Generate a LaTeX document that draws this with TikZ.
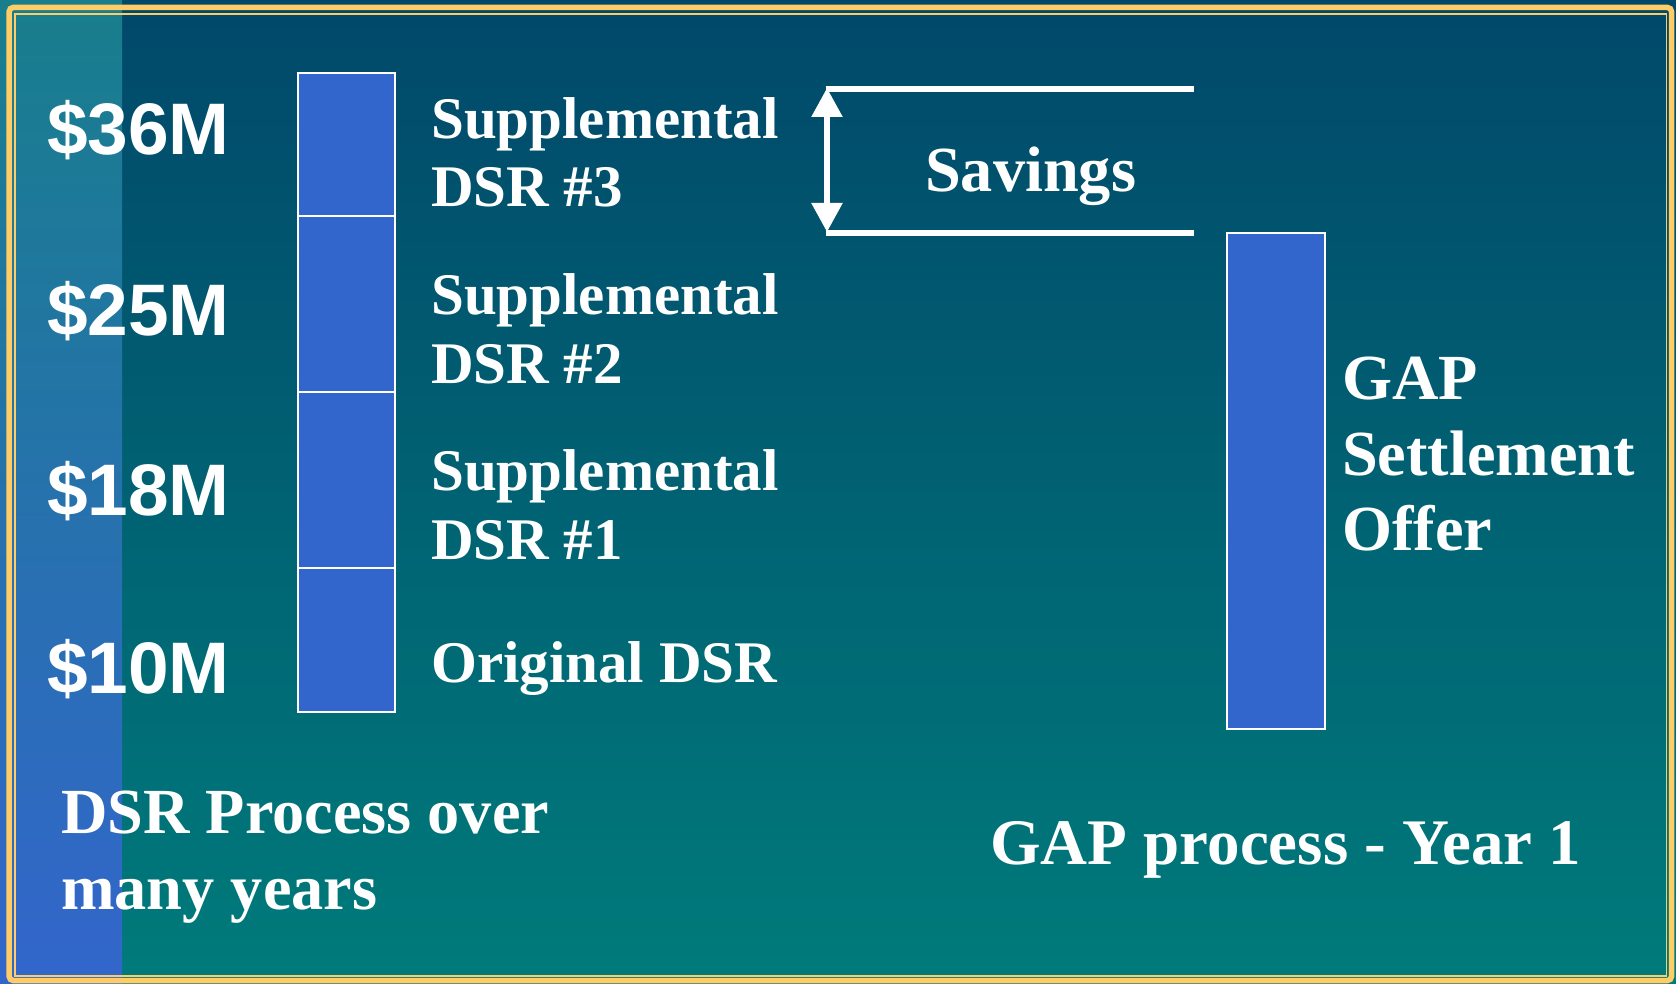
\documentclass[tikz,border=0pt]{standalone}
\usepackage{fontspec}
\setmainfont{Liberation Serif}
\newfontfamily\sansfam{Liberation Sans}
\usetikzlibrary{arrows.meta}
\definecolor{bgtop}{HTML}{01486A}
\definecolor{bgbot}{HTML}{007B7B}
\definecolor{striptop}{HTML}{187E8C}
\definecolor{stripbot}{HTML}{3366CC}
\definecolor{barblue}{HTML}{3366CC}
\definecolor{gold}{HTML}{FFCC66}
\begin{document}
\begin{tikzpicture}[x=1pt,y=-1pt,
  money/.style={font=\sansfam\bfseries\fontsize{73}{80}\selectfont, text=white, anchor=base west, inner sep=0pt},
  lbl/.style={font=\bfseries\fontsize{59}{68}\selectfont, text=white, anchor=base west, inner sep=0pt},
  biglbl/.style={font=\bfseries\fontsize{64.3}{76}\selectfont, text=white, anchor=base west, inner sep=0pt},
  barseg/.style={draw=white, line width=2pt, fill=barblue, inner sep=0pt, outer sep=0pt, minimum width=97pt},
  bracket/.style={white, line width=6pt},
  dblarrow/.style={white, line width=5.5pt, {Triangle[length=29pt,width=30pt]}-{Triangle[length=29pt,width=30pt]}}]
\useasboundingbox (0,0) rectangle (1676,984);
% background
\shade[top color=bgtop, bottom color=bgbot] (0,0) rectangle (1676,984);
\shade[top color=striptop, bottom color=stripbot] (0,0) rectangle (122,984);
% border
\draw[gold, line width=5.5pt, rounded corners=4pt] (9.2,7.5) rectangle (1671.5,980.5);
\draw[gold, line width=1.5pt] (15.2,14.2) rectangle (1666.5,976);
% left stacked bar
\node[barseg, minimum height=143pt] (seg3) at (346.5,144.5) {};
\node[barseg, minimum height=176pt] (seg2) at (346.5,304) {};
\node[barseg, minimum height=176pt] (seg1) at (346.5,480) {};
\node[barseg, minimum height=144pt] (seg0) at (346.5,640) {};
% right bar
\node[barseg, minimum width=98pt, minimum height=496pt] (gapbar) at (1276,480.6) {};
% money labels
\node[money] (m36) at (47,155) {\$36M};
\node[money] (m25) at (47,335) {\$25M};
\node[money] (m18) at (47,515) {\$18M};
\node[money] (m10) at (47,693) {\$10M};
% segment labels
\node[lbl] (s3a) at (431,139) {Supplemental};
\node[lbl] (s3b) at (431,207) {DSR \#3};
\node[lbl] (s2a) at (431,315) {Supplemental};
\node[lbl] (s2b) at (431,383) {DSR \#2};
\node[lbl] (s1a) at (431,490) {Supplemental};
\node[lbl] (s1b) at (431,559) {DSR \#1};
\node[lbl] (s0) at (431,682) {Original DSR};
% savings bracket
\coordinate (tl) at (825.7,89);
\coordinate (tr) at (1194,89);
\coordinate (bl) at (825.7,232.7);
\coordinate (br) at (1194,232.7);
\coordinate (at) at (827,88);
\coordinate (ab) at (827,232);
\draw[bracket] (tl) -- (tr);
\draw[bracket] (bl) -- (br);
\draw[dblarrow] (at) -- (ab);
\node[biglbl] (sav) at (925,192) {Savings};
% GAP labels
\node[biglbl] (g1) at (1342,399) {GAP};
\node[biglbl] (g2) at (1342,475) {Settlement};
\node[biglbl] (g3) at (1342,550) {Offer};
% bottom captions
\node[biglbl] (d1) at (61,833) {DSR Process over};
\node[biglbl] (d2) at (61,909) {many years};
\node[biglbl, font=\bfseries\fontsize{65}{76}\selectfont] (gp) at (990,864) {GAP process - Year 1};
\end{tikzpicture}
\end{document}
